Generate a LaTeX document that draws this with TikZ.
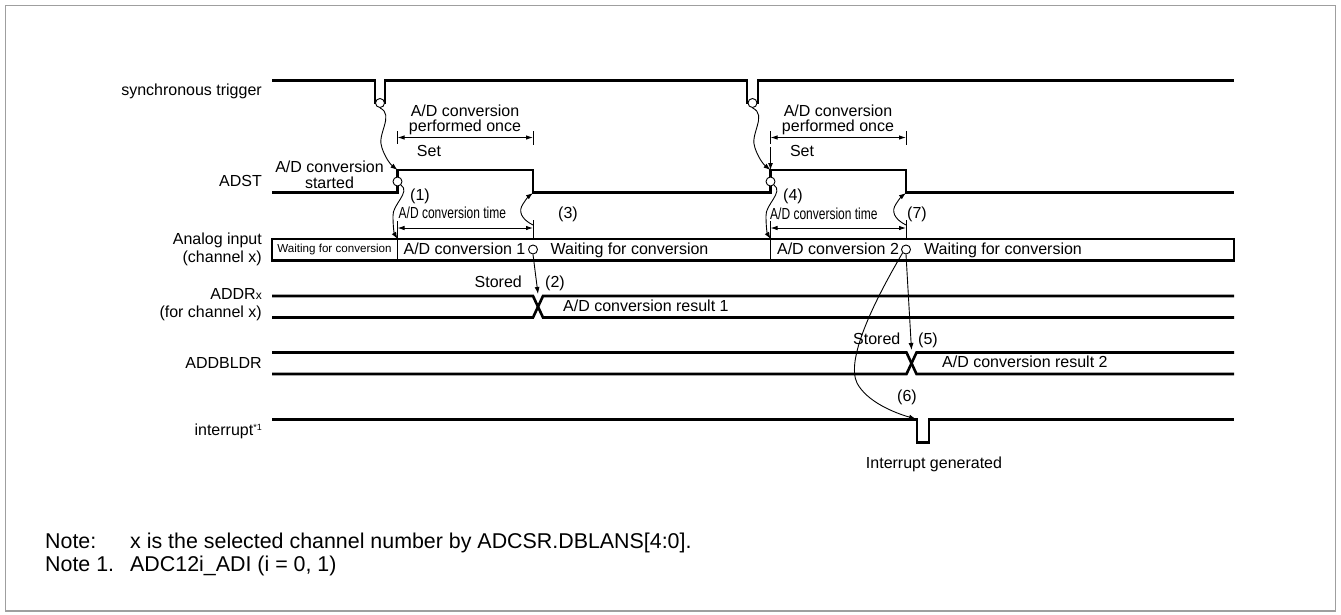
\documentclass[tikz,border=0pt]{standalone}
\usepackage{fontspec}
\setmainfont{Liberation Sans}
\usepackage{graphicx}
\usetikzlibrary{arrows.meta}
\begin{document}
\begin{tikzpicture}[x=1pt,y=-1pt,
  lbl/.style={font=\fontsize{16}{18}\selectfont, inner sep=0pt, text height=11.5pt, text depth=3.4pt},
  lblr/.style={font=\fontsize{16}{18}\selectfont, inner sep=0pt, anchor=east},
  smalltxt/.style={font=\fontsize{11.6}{13}\selectfont, inner sep=0pt, text height=8.4pt, text depth=2.5pt},
  condtxt/.style={font=\fontsize{16}{18}\selectfont, inner sep=0pt, anchor=west, text height=11.5pt, text depth=3.4pt},
  notetxt/.style={font=\fontsize{21.4}{24}\selectfont, inner sep=0pt, anchor=base west},
  sig/.style={line width=2.6pt, line join=miter},
  thinline/.style={line width=0.9pt},
  arr/.style={-{Latex[length=7pt,width=5pt]}, line width=0.9pt},
  dimarr/.style={{Latex[length=7pt,width=4.5pt]}-{Latex[length=7pt,width=4.5pt]}, line width=0.9pt},
  ring/.style={circle, draw, line width=0.9pt, minimum size=9pt, inner sep=0pt, fill=white}
]
\useasboundingbox (0,0) rectangle (1341,614);
\draw[gray!75, line width=1.5pt] (5.5,5.5) rectangle (1335.5,611);

% left labels
\node[lblr] (lt) at (262,91) {synchronous trigger};
\node[lblr] (la) at (262,181) {ADST};
\node[lblr, align=right] (lan) at (262,249) {Analog input\\(channel x)};
\node[lblr, align=right] (lad) at (262,305) {ADDR{\fontsize{12}{14}\selectfont x}\\(for channel x)};
\node[lblr] (lb) at (262,363) {ADDBLDR};
\node[lblr] (li) at (262,431) {interrupt\raisebox{5pt}{\fontsize{9}{10}\selectfont *1}};

% synchronous trigger
\draw[sig] (272,80.5) -- (375,80.5) -- (375,103) -- (385,103) -- (385,80.5) -- (747,80.5) -- (747,103) -- (758,103) -- (758,80.5) -- (1234,80.5);
% ADST
\draw[sig] (272,192.5) -- (397.5,192.5) -- (397.5,170) -- (533,170) -- (533,192.5) -- (770.5,192.5) -- (770.5,170) -- (906,170) -- (906,192.5) -- (1234,192.5);
% analog input box
\draw[sig] (272,239) rectangle (1234,260.5);
\draw[thinline] (397.5,239) -- (397.5,260.5);
\draw[thinline] (770.5,239) -- (770.5,260.5);
% ADDRx
\draw[sig] (272,296) -- (533,296) -- (543,317.5) -- (1234,317.5);
\draw[sig] (272,317.5) -- (533,317.5) -- (543,296) -- (1234,296);
% ADDBLDR
\draw[sig] (272,352.5) -- (906.5,352.5) -- (916.5,374) -- (1234,374);
\draw[sig] (272,374) -- (906.5,374) -- (916.5,352.5) -- (1234,352.5);
% interrupt
\draw[sig] (272,419.5) -- (917,419.5) -- (917,442.5) -- (929,442.5) -- (929,419.5) -- (1234,419.5);

% key coordinates
\coordinate (r1) at (397.5,170);
\coordinate (r2) at (770.5,170);
\coordinate (f1) at (533,193);
\coordinate (f2) at (906,193);
\coordinate (bx1) at (397.5,239);
\coordinate (bx2) at (770.5,239);
\coordinate (x1) at (538,294);
\coordinate (x2) at (911.5,350);
\coordinate (i1) at (916,419);
\coordinate (s2) at (770.5,147);

% dimension: performed once
\draw[thinline] (397.5,131) -- (397.5,144);
\draw[thinline] (533,131) -- (533,145);
\coordinate (p1a) at (397.5,137.5);
\coordinate (p1b) at (533,137.5);
\draw[dimarr] (p1a) -- (p1b);
\draw[thinline] (770.5,131) -- (770.5,144);
\draw[thinline] (906,131) -- (906,145);
\coordinate (p2a) at (770.5,137.5);
\coordinate (p2b) at (906,137.5);
\draw[dimarr] (p2a) -- (p2b);
% dimension: conversion time
\draw[thinline] (397.5,221) -- (397.5,239);
\draw[thinline] (533,220) -- (533,239);
\coordinate (c1a) at (397.5,228);
\coordinate (c1b) at (533,228);
\draw[dimarr] (c1a) -- (c1b);
\draw[thinline] (770.5,221) -- (770.5,239);
\draw[thinline] (906,220) -- (906,239);
\coordinate (c2a) at (770.5,228);
\coordinate (c2b) at (906,228);
\draw[dimarr] (c2a) -- (c2b);

% rings
\node[ring] (t1) at (380,103) {};
\node[ring] (t2) at (752.5,103) {};
\node[ring] (a1) at (397.5,181.5) {};
\node[ring] (a2) at (770.5,181.5) {};

% arrows from trigger to ADST
\draw[arr] (t1.south) .. controls (395,115) and (376,135) .. (382,148) .. controls (385,157) and (390,164) .. (r1);
\draw[arr] (t2.south) .. controls (768,115) and (749,135) .. (755,148) .. controls (758,157) and (763,164) .. (r2);
\draw[arr] (s2) -- (r2);
% ADST to analog input
\draw[arr] (a1.south east) .. controls (411,192) and (392,205) .. (393,216) .. controls (393,226) and (394,233) .. (bx1);
\draw[arr] (a2.south east) .. controls (784,192) and (765,205) .. (766,216) .. controls (766,226) and (767,233) .. (bx2);
% (3) and (7)
\coordinate (w1) at (533,225);
\coordinate (w2) at (906,225);
\draw[arr] (w1) .. controls (521,219) and (518,211) .. (523,204) .. controls (526,199) and (529,196) .. (f1);
\draw[arr] (w2) .. controls (894,219) and (891,211) .. (896,204) .. controls (899,199) and (902,196) .. (f2);

% rings in analog input
\node[ring] (b1) at (533,249.5) {};
\node[ring] (b2) at (906,249.5) {};
\draw[arr] (b1.south) -- (x1);
\draw[arr] (b2.south) -- (x2);
\draw[arr] (b2.south west) .. controls (872,305) and (846,360) .. (857,383) .. controls (867,402) and (895,413) .. (i1);

% texts
\node[lbl] (tA1) at (465,112) {A/D conversion};
\node[lbl] (tB1) at (465,127) {performed once};
\node[lbl] (tA2) at (838,112) {A/D conversion};
\node[lbl] (tB2) at (838,127) {performed once};
\node[lbl] (set1) at (429,152.5) {Set};
\node[lbl] (set2) at (802,152.5) {Set};
\node[lbl] (st1) at (329.5,168.5) {A/D conversion};
\node[lbl] (st2) at (329.5,184) {started};
\node[lbl] (n1) at (420,196) {(1)};
\node[lbl] (n4) at (793,196) {(4)};
\node[lbl] (n3) at (568,214) {(3)};
\node[lbl] (n7) at (917,214) {(7)};
\node[condtxt] (ct1) at (398.5,214.5) {\scalebox{0.75}[1]{A/D conversion time}};
\node[condtxt] (ct2) at (770,215) {\scalebox{0.75}[1]{A/D conversion time}};
\node[smalltxt] (w0) at (334.5,250) {Waiting for conversion};
\node[lbl] (ac1) at (464.5,250) {A/D conversion 1};
\node[lbl, anchor=west] (wt1) at (550.5,250) {Waiting for conversion};
\node[lbl] (ac2) at (838,250) {A/D conversion 2};
\node[lbl, anchor=west] (wt2) at (924,250) {Waiting for conversion};
\node[lbl, anchor=east] (sd1) at (522,283) {Stored};
\node[lbl] (n2) at (555,283) {(2)};
\node[lbl, anchor=west] (res1) at (563,307) {A/D conversion result 1};
\node[lbl, anchor=east] (sd2) at (900.5,340) {Stored};
\node[lbl] (n5) at (928,340) {(5)};
\node[lbl, anchor=west] (res2) at (942,363) {A/D conversion result 2};
\node[lbl] (n6) at (907,397) {(6)};
\node[lbl] (ig) at (934,464) {Interrupt generated};

% notes
\node[notetxt] (nt1) at (45,548.5) {Note:};
\node[notetxt] (nt1b) at (130,548.5) {x is the selected channel number by ADCSR.DBLANS[4:0].};
\node[notetxt] (nt2) at (45,571.5) {Note 1.};
\node[notetxt] (nt2b) at (130,571.5) {ADC12i\_ADI (i = 0, 1)};
\end{tikzpicture}
\end{document}
